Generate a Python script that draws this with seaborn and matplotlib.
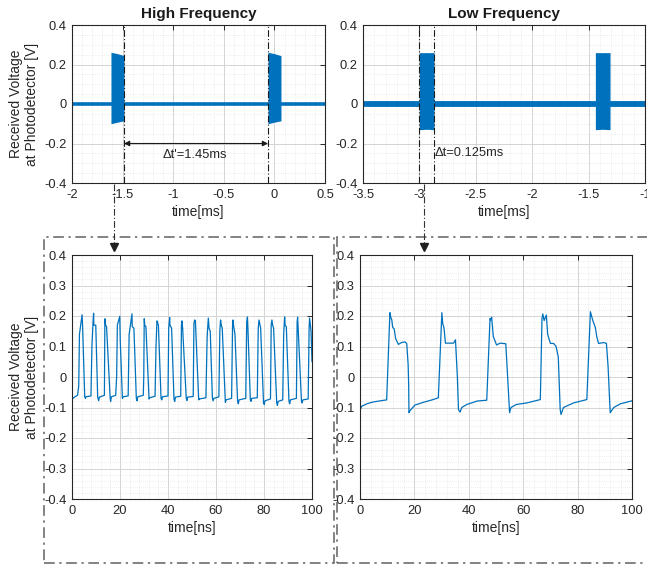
import numpy as np
import matplotlib
matplotlib.use("Agg")
import matplotlib.pyplot as plt
import seaborn as sns
from matplotlib.lines import Line2D
from matplotlib.patches import Rectangle
from matplotlib.ticker import MultipleLocator

# ---------------- data ----------------
# top-left: high frequency envelope view (ms)
hf_base_x = [-2.0, 0.5]
hf_base_y = [0.0, 0.0]
hf_burst1_x = [-1.615, -1.55, -1.486]
hf_burst2_x = [-0.063, 0.0, 0.065]
hf_burst_top = [0.262, 0.255, 0.245]
hf_burst_bot = [-0.100, -0.092, -0.085]
hf_marks = [-1.486, -0.063]

# top-right: low frequency envelope view (ms)
lf_base_x = [-3.5, -1.0]
lf_base_y = [0.0, 0.0]
lf_burst1_x = [-3.0, -2.935, -2.87]
lf_burst2_x = [-1.44, -1.375, -1.31]
lf_burst_top = [0.26, 0.26, 0.26]
lf_burst_bot = [-0.13, -0.128, -0.13]
lf_marks = [-3.0, -2.87]

# bottom-left: high frequency waveform (ns, V)
hf_t = [0.0, 0.1, 1.2, 2.3, 2.8, 3.1, 4.2, 4.4, 5.3, 5.6, 5.8, 7.9,
        8.3, 8.8, 9.0, 9.1, 9.9, 10.7, 11.1, 11.4, 12.8,
        13.5, 13.7, 14.0, 14.4, 15.9, 16.1, 16.4, 18.2,
        18.6, 18.9, 19.9, 20.1, 21.0, 21.3, 23.4,
        23.8, 25.0, 25.1, 25.8, 26.8, 27.1, 27.4, 29.7,
        29.9, 30.1, 30.3, 30.8, 32.1, 32.4, 34.6,
        35.0, 35.4, 35.6, 36.0, 37.1, 37.4, 37.7, 40.0,
        40.3, 40.7, 40.8, 41.5, 42.5, 42.8, 43.1, 45.3,
        45.6, 45.8, 46.1, 47.6, 47.9, 48.2, 50.5,
        50.8, 51.1, 51.4, 52.8, 53.1, 55.8,
        56.3, 56.8, 57.1, 57.6, 58.5, 58.8, 59.1, 61.2,
        61.6, 61.9, 62.2, 62.6, 63.9, 64.2, 66.5,
        66.9, 67.1, 67.3, 67.9, 69.0, 69.3, 69.6, 72.4,
        72.8, 73.1, 73.3, 74.3, 74.6, 74.9, 77.2,
        77.6, 77.9, 78.2, 78.6, 79.8, 80.1, 80.4, 82.7,
        83.0, 83.3, 83.6, 84.0, 85.3, 85.6, 85.9, 87.8,
        88.2, 88.6, 88.8, 89.3, 90.4, 90.7, 91.0, 93.5,
        93.8, 94.0, 94.2, 95.6, 95.9, 96.2, 98.4,
        98.8, 99.0, 99.3, 99.6, 100.0]
hf_v = [0.0, -0.072, -0.065, -0.060, -0.030, 0.140, 0.204, 0.170, -0.065, -0.070, -0.065, -0.062,
        0.100, 0.185, 0.209, 0.170, 0.170, -0.065, -0.078, -0.066, -0.062,
        -0.060, 0.191, 0.170, 0.165, -0.070, -0.080, -0.065, -0.060,
        0.000, 0.170, 0.199, 0.120, -0.070, -0.065, -0.062,
        0.140, 0.207, 0.165, 0.160, -0.070, -0.078, -0.065, -0.060,
        0.000, 0.191, 0.170, 0.165, -0.072, -0.068, -0.063,
        0.100, 0.184, 0.180, 0.170, -0.070, -0.075, -0.065, -0.062,
        0.160, 0.195, 0.170, 0.160, -0.073, -0.080, -0.066, -0.063,
        0.170, 0.184, 0.160, -0.070, -0.077, -0.066, -0.064,
        0.175, 0.187, 0.185, -0.075, -0.072, -0.068,
        0.130, 0.193, 0.160, 0.150, -0.070, -0.078, -0.070, -0.065,
        0.150, 0.187, 0.170, 0.160, -0.083, -0.075, -0.070,
        0.170, 0.187, 0.170, 0.140, -0.080, -0.088, -0.075, -0.070,
        0.180, 0.197, 0.160, -0.075, -0.080, -0.070, -0.068,
        0.160, 0.187, 0.175, 0.160, -0.085, -0.090, -0.078, -0.072,
        0.170, 0.187, 0.170, 0.160, -0.085, -0.093, -0.080, -0.075,
        0.140, 0.197, 0.170, 0.165, -0.080, -0.088, -0.075, -0.070,
        0.180, 0.196, 0.165, -0.078, -0.085, -0.075, -0.072,
        0.160, 0.193, 0.170, 0.150, 0.050]

# bottom-right: low frequency waveform (ns, V)
lf_t = [0.0, 0.1, 0.6, 2.5, 4.3, 6.1, 9.8,
        11.0, 11.3, 11.7, 12.0, 12.6, 13.1, 14.1, 15.3, 16.6, 17.2, 17.7, 17.9, 18.0,
        18.4, 20.2, 23.3, 26.9, 28.8,
        30.1, 30.4, 30.9, 31.4, 34.4, 35.1, 35.8, 36.2, 36.8,
        37.4, 39.3, 43.0, 46.6,
        47.8, 48.1, 48.4, 49.0, 50.2, 51.5, 53.6, 55.0,
        55.5, 57.5, 61.3, 66.3,
        66.9, 67.2, 67.7, 68.5, 69.0, 70.0, 71.2, 72.1, 72.9, 73.6, 73.9,
        74.8, 78.5, 83.4,
        84.7, 85.6, 86.5, 87.1, 87.7, 89.6, 90.6, 91.2, 91.9, 92.0,
        93.3, 95.7, 100.0]
lf_v = [-0.120, -0.107, -0.096, -0.088, -0.083, -0.080, -0.075,
        0.211, 0.196, 0.187, 0.163, 0.157, 0.126, 0.107, 0.113, 0.115, 0.109, 0.040, -0.030, -0.117,
        -0.110, -0.092, -0.083, -0.074, -0.068,
        0.211, 0.176, 0.160, 0.111, 0.111, 0.122, 0.000, -0.107, -0.115,
        -0.100, -0.090, -0.079, -0.076,
        0.192, 0.187, 0.196, 0.133, 0.105, 0.111, 0.109, -0.117,
        -0.100, -0.090, -0.085, -0.074,
        0.190, 0.207, 0.185, 0.203, 0.140, 0.110, 0.110, 0.100, 0.065, -0.107, -0.123,
        -0.100, -0.085, -0.074,
        0.214, 0.185, 0.163, 0.130, 0.110, 0.113, 0.110, 0.035, -0.101, -0.117,
        -0.100, -0.088, -0.078]

top_left_xticks = [-2, -1.5, -1, -0.5, 0, 0.5]
top_right_xticks = [-3.5, -3, -2.5, -2, -1.5, -1]
top_yticks = [-0.4, -0.2, 0, 0.2, 0.4]
bot_xticks = [0, 20, 40, 60, 80, 100]
bot_yticks = [-0.4, -0.3, -0.2, -0.1, 0, 0.1, 0.2, 0.3, 0.4]

# ---------------- style ----------------
sns.set_theme(style="white")
plt.rcParams['font.family'] = ['Liberation Sans', 'DejaVu Sans']
plt.rcParams['axes.unicode_minus'] = False

BLUE = '#0072BD'
DARK = '#262626'
W, H = 647, 567
fig = plt.figure(figsize=(W / 100, H / 100), dpi=100)


def px_rect(l, t, r, b):
    return [l / W, 1 - b / H, (r - l) / W, (b - t) / H]


def style(ax, xt, yt, xminor, yminor, xlim, ylim):
    ax.set_xlim(xlim)
    ax.set_ylim(ylim)
    ax.set_xticks(xt)
    ax.set_xticklabels([f"{v:g}" for v in xt])
    ax.set_yticks(yt)
    ax.set_yticklabels([f"{v:g}" for v in yt])
    ax.xaxis.set_minor_locator(MultipleLocator(xminor))
    ax.yaxis.set_minor_locator(MultipleLocator(yminor))
    ax.grid(which='major', color='#d4d4d4', lw=0.7, ls='-')
    ax.grid(which='minor', color='#dcdcdc', lw=0.5, ls=(0, (1, 2)))
    ax.tick_params(which='major', direction='in', top=True, right=True, length=3.5,
                   width=0.7, labelsize=9.3, color=DARK, labelcolor=DARK, pad=4)
    ax.tick_params(which='minor', length=0)
    for s in ax.spines.values():
        s.set_visible(True)
        s.set_color(DARK)
        s.set_linewidth(0.8)
    ax.set_axisbelow(True)
    ax.set_ylabel('')
    ax.set_xlabel('')


ax1 = fig.add_axes(px_rect(72, 25, 325, 183))
ax2 = fig.add_axes(px_rect(363, 25, 645, 183))
ax3 = fig.add_axes(px_rect(72, 255, 312, 499))
ax4 = fig.add_axes(px_rect(360, 255, 632, 499))

# top-left
sns.lineplot(x=hf_base_x, y=hf_base_y, ax=ax1, color=BLUE, lw=2.6)
ax1.fill_between(hf_burst1_x, hf_burst_bot, hf_burst_top, color=BLUE, lw=0)
ax1.fill_between(hf_burst2_x, hf_burst_bot, hf_burst_top, color=BLUE, lw=0)
style(ax1, top_left_xticks, top_yticks, 0.1, 0.05, (-2, 0.5), (-0.4, 0.4))
for m in hf_marks:
    ax1.axvline(m, color='k', ls=(0, (6, 2, 1, 2)), lw=0.8)
ax1.annotate('', xy=(hf_marks[1], -0.2), xytext=(hf_marks[0], -0.2),
             arrowprops=dict(arrowstyle='<|-|>', color='k', lw=0.8,
                             shrinkA=0, shrinkB=0, mutation_scale=8))
ax1.text(-1.10, -0.258, "Δt'=1.45ms", ha='left', va='center', fontsize=9.3, color=DARK)
ax1.set_title('High Frequency', fontsize=11, fontweight='bold', color='k', pad=5)
ax1.set_xlabel('time[ms]', fontsize=10, color=DARK, labelpad=3)

# top-right
sns.lineplot(x=lf_base_x, y=lf_base_y, ax=ax2, color=BLUE, lw=4.2)
ax2.fill_between(lf_burst1_x, lf_burst_bot, lf_burst_top, color=BLUE, lw=0)
ax2.fill_between(lf_burst2_x, lf_burst_bot, lf_burst_top, color=BLUE, lw=0)
style(ax2, top_right_xticks, top_yticks, 0.1, 0.05, (-3.5, -1), (-0.4, 0.4))
for m in lf_marks:
    ax2.axvline(m, color='k', ls=(0, (6, 2, 1, 2)), lw=0.8)
ax2.text(-2.865, -0.248, "Δt=0.125ms", ha='left', va='center', fontsize=9.3, color=DARK)
ax2.set_title('Low Frequency', fontsize=11, fontweight='bold', color='k', pad=5)
ax2.set_xlabel('time[ms]', fontsize=10, color=DARK, labelpad=3)

# bottom-left
sns.lineplot(x=hf_t, y=hf_v, ax=ax3, color=BLUE, lw=0.9, estimator=None, sort=False)
style(ax3, bot_xticks, bot_yticks, 4, 0.02, (0, 100), (-0.4, 0.4))
ax3.set_xlabel('time[ns]', fontsize=10, color=DARK, labelpad=3)

# bottom-right
sns.lineplot(x=lf_t, y=lf_v, ax=ax4, color=BLUE, lw=0.9, estimator=None, sort=False)
style(ax4, bot_xticks, bot_yticks, 4, 0.02, (0, 100), (-0.4, 0.4))
ax4.set_xlabel('time[ns]', fontsize=10, color=DARK, labelpad=3)

ax1.set_xlabel('time[ms]', fontsize=10, color=DARK, labelpad=3)
ax2.set_xlabel('time[ms]', fontsize=10, color=DARK, labelpad=3)
ax3.set_xlabel('time[ns]', fontsize=10, color=DARK, labelpad=3)
ax4.set_xlabel('time[ns]', fontsize=10, color=DARK, labelpad=3)

# y labels
ylab = 'Received Voltage\nat Photodetector [V]'
fig.text(24 / W, 1 - 104 / H, ylab, rotation=90, ha='center', va='center',
         multialignment='center', fontsize=10, color=DARK, linespacing=1.1)
fig.text(24 / W, 1 - 377 / H, ylab, rotation=90, ha='center', va='center',
         multialignment='center', fontsize=10, color=DARK, linespacing=1.1)

# dash-dot boxes
box_kw = dict(transform=fig.transFigure, fill=False, ls=(0, (7, 3, 1.5, 3)),
              ec='#606060', lw=1.1)
fig.add_artist(Rectangle((44 / W, 1 - 563 / H), (334 - 44) / W, (563 - 237) / H, **box_kw))
fig.add_artist(Rectangle((337 / W, 1 - 563 / H), (700 - 337) / W, (563 - 237) / H, **box_kw))

# connectors
for cx in (114, 424):
    fig.add_artist(Line2D([cx / W, cx / W], [1 - 184 / H, 1 - 243 / H], transform=fig.transFigure,
                          color='#303030', ls=(0, (6, 2, 1, 2)), lw=0.8))
    fig.add_artist(Line2D([cx / W], [1 - 247 / H], transform=fig.transFigure, marker='v',
                          ms=6, color='#202020', lw=0))

fig.savefig('out.png', dpi=100)
